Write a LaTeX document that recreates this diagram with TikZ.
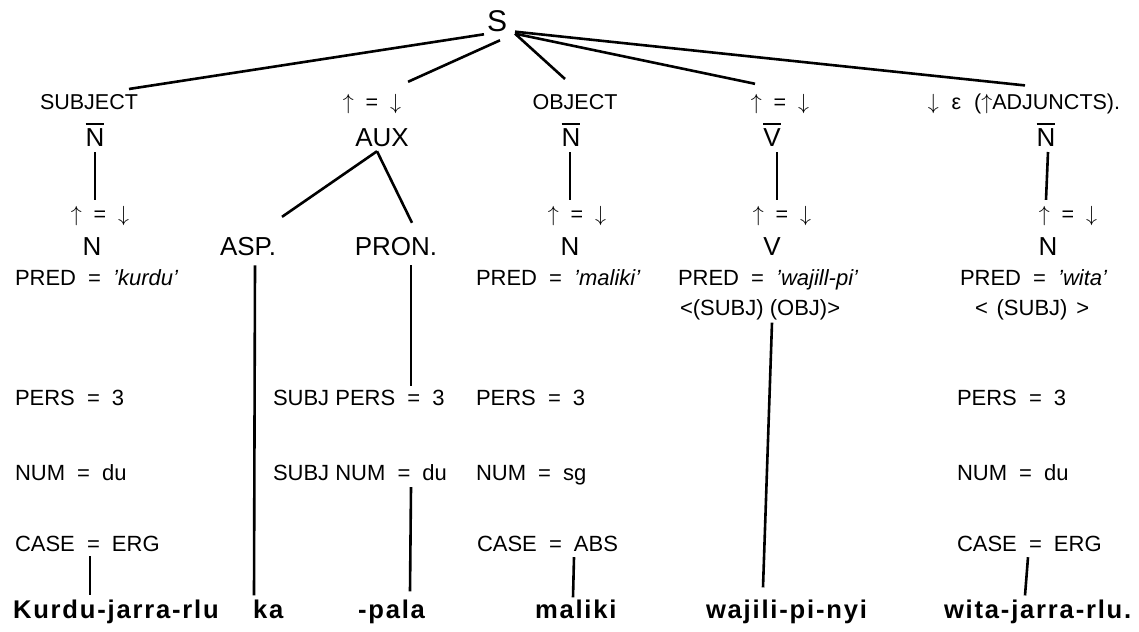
\documentclass[tikz,border=0pt]{standalone}
\usepackage{fontspec}
\setmainfont{Liberation Sans}
\newfontfamily\wordfont[LetterSpace=7]{Liberation Sans}
\usepackage{tikz}
\usetikzlibrary{positioning,calc}

\newcommand{\eqs}{\hspace{0.55em}=\hspace{0.55em}}
\newcommand{\ueqd}{$\uparrow$\eqs$\downarrow$}
\newcommand{\barcat}[1]{\vbox{\hrule height 1.1pt\kern1.6pt\hbox{#1}}}

\begin{document}
\begin{tikzpicture}[x=0.5pt,y=-0.5pt,every node/.style={inner sep=0pt, outer sep=0pt}]
\tikzset{lab/.style={anchor=base,font=\fontsize{10.75}{12}\selectfont},
  cat/.style={anchor=base,font=\fontsize{13}{15}\selectfont},
  feat/.style={anchor=base west,font=\fontsize{11}{13}\selectfont},
  word/.style={anchor=base west,font=\wordfont\bfseries\fontsize{12.8}{14}\selectfont},
  tline/.style={line width=1.3pt}}

\useasboundingbox (0,0) rectangle (1139,631);

  \node(S) [cat,font=\fontsize{15}{17}\selectfont] at (497,32) {S};

  % first row of labels
  \node(C1L) [lab] at (89,110) { SUBJECT };
  \node(C2L) [lab] at (372,110) { \ueqd };
  \node(C3L) [lab] at (575,110) { OBJECT };
  \node(C4L) [lab] at (780,110) { \ueqd };
  \node(C5L) [lab] at (1024,110) { $\downarrow$\hspace{0.6em}ε\hspace{0.6em}($\uparrow$ADJUNCTS). };

  \node(C1B) [cat] at (95,146) { \barcat{N} };
  \node(AUX) [cat] at (382,146) { AUX };
  \node(C3B) [cat] at (571,146) { \barcat{N} };
  \node(C4B) [cat] at (772,146) { \barcat{V} };
  \node(C5B) [cat] at (1046,146) { \barcat{N} };

  \node(C1E) [lab] at (100,221) { \ueqd };
  \node(C3E) [lab] at (577,221) { \ueqd };
  \node(C4E) [lab] at (782,221) { \ueqd };
  \node(C5E) [lab] at (1068,221) { \ueqd };

  \node(C1N) [cat] at (92,255) { N };
  \node(ASP) [cat] at (248,255) { ASP. };
  \node(PRON) [cat] at (396,255) { PRON. };
  \node(C3N) [cat] at (570,255) { N };
  \node(C4N) [cat] at (772,255) { V };
  \node(C5N) [cat] at (1048,255) { N };

  % feature lines
  \node(C1P) [feat] at (15,285) { PRED\eqs\textit{'kurdu'} };
  \node(C3P) [feat] at (476,285) { PRED\eqs\textit{'maliki'} };
  \node(C4P) [feat] at (678,285) { PRED\eqs\textit{'wajill-pi'} };
  \node(C5P) [feat] at (960,285) { PRED\eqs\textit{'wita'} };
  \node(C4A) [feat] at (680,315) { <(SUBJ) (OBJ)> };
  \node(C5A) [feat] at (975,315) { <\hspace{0.4em}(SUBJ)\hspace{0.4em}> };

  \node(C1PE) [feat] at (15,405) { PERS\eqs 3 };
  \node(C2PE) [feat] at (273,405) { SUBJ PERS\eqs 3 };
  \node(C3PE) [feat] at (476,405) { PERS\eqs 3 };
  \node(C5PE) [feat] at (957,405) { PERS\eqs 3 };

  \node(C1NU) [feat] at (15,480) { NUM\eqs du };
  \node(C2NU) [feat] at (273,480) { SUBJ NUM\eqs du };
  \node(C3NU) [feat] at (476,480) { NUM\eqs sg };
  \node(C5NU) [feat] at (957,480) { NUM\eqs du };

  \node(C1CA) [feat] at (15,551) { CASE\eqs ERG };
  \node(C3CA) [feat] at (477,551) { CASE\eqs ABS };
  \node(C5CA) [feat] at (957,551) { CASE\eqs ERG };

  % the words
  \node(W1) [word] at (13,618) { Kurdu-jarra-rlu };
  \node(W2) [word] at (253,618) { ka };
  \node(W3) [word] at (358,618) { -pala };
  \node(W4) [word] at (535,618) { maliki };
  \node(W5) [word] at (706,618) { wajili-pi-nyi };
  \node(W6) [word] at (944,618) { wita-jarra-rlu. };

  % branches from S
  \draw[tline] ($(S.south west)+(-3,2)$) -- ($(C1L.north east)+(-9,-6)$);
  \draw[tline] ($(S.south)+(3,8)$) -- ($(C2L.north east)+(7,-13)$);
  \draw[tline] ($(S.east)+(8,12)$) -- ($(C3L.north)+(-10,-16)$);
  \draw[tline] ($(S.east)+(8,12)$) -- ($(C4L.north)+(-25,-11)$);
  \draw[tline] ($(S.east)+(8,10)$) -- ($(C5L.north)+(1,-9)$);

  \draw[tline] ($(C1B.south)+(0,6)$) -- ($(C1B.south |- C1E.north)+(0,-6)$);
  \draw[tline] ($(C3B.south)+(-1,6)$) -- ($(C3B.south |- C3E.north)+(-1,-6)$);
  \draw[tline] ($(C4B.south)+(5,6)$) -- ($(C4B.south |- C4E.north)+(5,-6)$);
  \draw[tline] ($(C5B.south)+(2,6)$) -- ($(C5B.south |- C5E.north)+(0,-6)$);

  \draw[tline] ($(AUX.south)+(-5,5)$) -- ($(ASP.north)+(34,-20)$);
  \draw[tline] ($(AUX.south)+(-5,5)$) -- ($(PRON.north)+(16,-14)$);

  \draw[tline] ($(ASP.south)+(7,10)$) -- ($(ASP.south |- W2.north)+(6,-4)$);
  \draw[tline] ($(PRON.south)+(15,10)$) -- ($(PRON.south |- C2PE.north)+(15,-4)$);
  \draw[tline] ($(PRON.south |- C2NU.south)+(15,7)$) -- ($(PRON.south |- W3.north)+(14,-8)$);
%  \draw[tline] (C1CA.south) -- (W1.north);
  \draw[tline] ($(C1N.south |- C1CA.south)+(-2,5)$) -- ($(C1N.south |- W1.north)+(-2,-4)$);
  \draw[tline] ($(C3N.south |- C3CA.south)+(4,6)$) -- ($(C3N.south |- W4.north)+(3,-2)$);
  \draw[tline] ($(C4N.south |- C4A.south)+(0,3)$) -- ($(C4N.south |- W5.north)+(-9,-12)$);
  \draw[tline] ($(C5N.south |- C5CA.south)+(-20,6)$) -- ($(C5N.south |- W6.north)+(-23,-4)$);
\end{tikzpicture}
\end{document}
